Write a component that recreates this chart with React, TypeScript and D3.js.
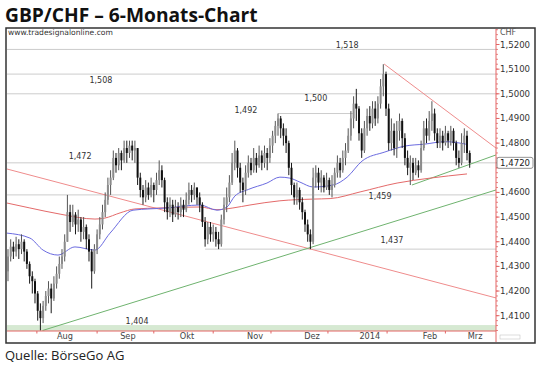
import React from 'react';
import * as d3 from 'd3';

// ---- Data ----
const firstOpen = 1.428;
const closes = [
  1.434, 1.438, 1.436, 1.439, 1.437, 1.440, 1.436, 1.431, 1.426, 1.424,
  1.419, 1.412, 1.409, 1.414, 1.418, 1.421, 1.417, 1.423, 1.427, 1.431,
  1.434, 1.440, 1.452, 1.448, 1.451, 1.447, 1.449, 1.444, 1.446, 1.441,
  1.436, 1.428, 1.437, 1.443, 1.447, 1.452, 1.457, 1.463, 1.466, 1.474,
  1.471, 1.476, 1.473, 1.478, 1.476, 1.479, 1.477, 1.478, 1.466, 1.461,
  1.458, 1.462, 1.459, 1.463, 1.461, 1.465, 1.469, 1.465, 1.456, 1.452,
  1.455, 1.451, 1.454, 1.452, 1.455, 1.453, 1.457, 1.461, 1.459, 1.462,
  1.458, 1.455, 1.448, 1.441, 1.446, 1.443, 1.444, 1.441, 1.439, 1.449,
  1.455, 1.458, 1.464, 1.472, 1.477, 1.470, 1.464, 1.461, 1.468, 1.472,
  1.469, 1.474, 1.471, 1.475, 1.472, 1.476, 1.474, 1.479, 1.483, 1.487,
  1.490, 1.486, 1.483, 1.480, 1.470, 1.463, 1.458, 1.461, 1.456, 1.452,
  1.447, 1.443, 1.440, 1.466, 1.468, 1.464, 1.466, 1.462, 1.465, 1.461,
  1.463, 1.468, 1.472, 1.469, 1.474, 1.477, 1.483, 1.490, 1.496, 1.494,
  1.484, 1.477, 1.486, 1.491, 1.488, 1.494, 1.490, 1.496, 1.503, 1.508,
  1.494, 1.480, 1.485, 1.478, 1.485, 1.489, 1.482, 1.474, 1.470, 1.472,
  1.468, 1.471, 1.469, 1.478, 1.486, 1.483, 1.489, 1.492, 1.484, 1.480,
  1.483, 1.480, 1.484, 1.481, 1.485, 1.480, 1.474, 1.472, 1.480, 1.483,
  1.476, 1.472,
];
const highs = [
  1.437, 1.441, 1.440, 1.442, 1.441, 1.443, 1.441, 1.437, 1.432, 1.428,
  1.425, 1.420, 1.415, 1.416, 1.420, 1.424, 1.423, 1.426, 1.430, 1.434,
  1.437, 1.443, 1.459, 1.455, 1.455, 1.452, 1.453, 1.450, 1.450, 1.447,
  1.443, 1.437, 1.439, 1.445, 1.450, 1.455, 1.460, 1.466, 1.469, 1.477,
  1.476, 1.478, 1.477, 1.481, 1.481, 1.481, 1.481, 1.481, 1.478, 1.468,
  1.463, 1.465, 1.464, 1.466, 1.464, 1.468, 1.473, 1.471, 1.466, 1.458,
  1.458, 1.457, 1.457, 1.456, 1.458, 1.457, 1.460, 1.464, 1.463, 1.464,
  1.462, 1.460, 1.456, 1.450, 1.448, 1.448, 1.447, 1.446, 1.444, 1.451,
  1.458, 1.462, 1.467, 1.476, 1.481, 1.478, 1.472, 1.466, 1.471, 1.475,
  1.474, 1.478, 1.476, 1.479, 1.477, 1.479, 1.478, 1.482, 1.485, 1.489,
  1.492, 1.491, 1.488, 1.486, 1.481, 1.472, 1.464, 1.464, 1.462, 1.458,
  1.453, 1.449, 1.445, 1.470, 1.471, 1.470, 1.469, 1.467, 1.468, 1.466,
  1.467, 1.470, 1.475, 1.474, 1.477, 1.480, 1.486, 1.493, 1.499, 1.502,
  1.495, 1.486, 1.489, 1.494, 1.495, 1.497, 1.497, 1.499, 1.506, 1.512,
  1.509, 1.496, 1.490, 1.488, 1.489, 1.492, 1.490, 1.484, 1.477, 1.475,
  1.474, 1.474, 1.473, 1.481, 1.489, 1.490, 1.493, 1.497, 1.494, 1.486,
  1.486, 1.485, 1.487, 1.485, 1.487, 1.486, 1.481, 1.477, 1.484, 1.486,
  1.485, 1.477,
];
const lows = [
  1.424, 1.432, 1.433, 1.434, 1.433, 1.435, 1.432, 1.429, 1.423, 1.419,
  1.415, 1.408, 1.404, 1.407, 1.412, 1.415, 1.411, 1.416, 1.421, 1.425,
  1.429, 1.432, 1.440, 1.444, 1.446, 1.443, 1.444, 1.440, 1.441, 1.437,
  1.432, 1.421, 1.427, 1.435, 1.441, 1.445, 1.450, 1.455, 1.459, 1.465,
  1.468, 1.469, 1.469, 1.472, 1.472, 1.474, 1.473, 1.472, 1.463, 1.458,
  1.455, 1.456, 1.457, 1.458, 1.456, 1.459, 1.463, 1.462, 1.452, 1.449,
  1.450, 1.448, 1.450, 1.449, 1.450, 1.450, 1.452, 1.455, 1.456, 1.457,
  1.455, 1.452, 1.446, 1.438, 1.439, 1.440, 1.440, 1.438, 1.437, 1.438,
  1.447, 1.452, 1.456, 1.463, 1.469, 1.466, 1.460, 1.456, 1.459, 1.466,
  1.467, 1.468, 1.468, 1.470, 1.469, 1.470, 1.469, 1.472, 1.476, 1.480,
  1.483, 1.482, 1.479, 1.476, 1.467, 1.459, 1.455, 1.455, 1.453, 1.449,
  1.444, 1.440, 1.437, 1.439, 1.462, 1.461, 1.460, 1.460, 1.461, 1.459,
  1.458, 1.462, 1.466, 1.466, 1.468, 1.471, 1.476, 1.481, 1.486, 1.489,
  1.481, 1.474, 1.476, 1.483, 1.485, 1.486, 1.487, 1.488, 1.494, 1.499,
  1.491, 1.477, 1.477, 1.475, 1.474, 1.481, 1.478, 1.471, 1.467, 1.463,
  1.465, 1.467, 1.466, 1.468, 1.477, 1.480, 1.481, 1.485, 1.481, 1.478,
  1.478, 1.477, 1.479, 1.478, 1.479, 1.477, 1.471, 1.470, 1.471, 1.476,
  1.473, 1.470,
];

// moving averages: [bar index, value]
const maBlue: [number, number][] = [
  [-0.4, 1.4435], [8.1, 1.4415], [13, 1.4366], [18.5, 1.4346], [24.8, 1.4379],
  [32.2, 1.4366], [37.8, 1.4435], [46.3, 1.4528], [58.9, 1.4537], [71.1, 1.4549],
  [77.4, 1.4528], [81.1, 1.4541], [84, 1.4585], [89, 1.4612], [95.9, 1.4638],
  [100.7, 1.4662], [104.4, 1.4658], [108.1, 1.4642], [113, 1.4622], [120.4, 1.4630],
  [125.6, 1.4662], [131.1, 1.4727], [139.6, 1.4764], [147, 1.4788], [154.4, 1.4796],
  [161.9, 1.4806], [170, 1.4795],
];
const maRed: [number, number][] = [
  [-0.4, 1.4557], [8.1, 1.4537], [19.3, 1.4512], [32.2, 1.4492], [35.9, 1.4496],
  [41.5, 1.4517], [47, 1.4533], [56.3, 1.4537], [71.1, 1.4541], [77.4, 1.4530],
  [83.3, 1.4537], [89.6, 1.4549], [100.7, 1.4566], [113, 1.4573], [119.3, 1.4575],
  [130.4, 1.4602], [144.1, 1.4638], [156.3, 1.4658], [170, 1.4675],
];

// trend lines: [bar index, value]
const trendRedLong: [number, number][] = [[-0.37, 1.4695], [180.74, 1.4172]];
const trendRedShort: [number, number][] = [[139.3, 1.5121], [180.74, 1.478]];
const trendGreenLong: [number, number][] = [[12.8, 1.404], [180.74, 1.461]];
const trendGreenShort: [number, number][] = [[149.6, 1.463], [180.74, 1.4752]];

// horizontal levels
const levelValues = [1.518, 1.508, 1.5, 1.492, 1.472, 1.459, 1.437];
const levelFrom = [-0.37, -0.37, -0.37, 100, -0.37, -0.37, 73];
const levelTo = [180.74, 180.74, 180.74, 128, 180.74, 180.74, 180.74];
const levelLabels = ['1,518', '1,508', '1,500', '1,492', '1,472', '1,459', '1,437', '1,404'];
const levelLabelIdx = [125.6, 34.4, 114, 88.1, 26.7, 137.8, 142.2, 47.8];
const levelLabelVal = [1.5198, 1.5056, 1.4983, 1.4934, 1.4748, 1.4583, 1.4407, 1.4078];
const bandLow = 1.4035;
const bandHigh = 1.4062;

const yTicks = [1.41, 1.42, 1.43, 1.44, 1.45, 1.46, 1.47, 1.48, 1.49, 1.5, 1.51, 1.52];
const lastPrice = 1.472;

const monthTickIdx = [10.7, 33, 54, 76, 97.4, 118.5, 140.4, 162];
const monthLabels = ['Aug', 'Sep', 'Okt', 'Nov', 'Dez', '2014', 'Feb', 'Mrz'];
const monthLabelIdx = [21.1, 44.4, 66.3, 91.5, 112.6, 134, 156.3, 173];

const fmt = (v: number) => d3.format('.4f')(v).replace('.', ',');

export default function App() {
  const x = d3.scaleLinear().domain([-0.37, 180.74]).range([7, 496]);
  const y = d3.scaleLinear().domain([1.41, 1.52]).range([315.7, 44.5]);
  const plotTop = 29;
  const plotBottom = 331;
  const plotLeft = 7;
  const plotRight = 496;

  const line = d3.line<[number, number]>().x(d => x(d[0])).y(d => y(d[1]));
  const curve = d3
    .line<[number, number]>()
    .x(d => x(d[0]))
    .y(d => y(d[1]))
    .curve(d3.curveMonotoneX);

  const minorTicks = d3.range(1404, 1527, 2).map(v => v / 1000);

  const chartFont = "'DejaVu Sans', Verdana, sans-serif";

  return (
    <svg
      width={540}
      height={366}
      style={{ position: 'absolute', left: 0, top: 0, background: '#fff' }}
    >
      <defs>
        <clipPath id="plot">
          <rect x={plotLeft} y={plotTop} width={plotRight - plotLeft} height={plotBottom - plotTop} />
        </clipPath>
      </defs>
      <rect x={0} y={0} width={540} height={366} fill="#fff" />
      <text
        x={5}
        y={21.5}
        fontFamily="'Open Sans', sans-serif"
        fontWeight={700}
        fontSize={19.2}
        fill="#111"
      >
        GBP/CHF – 6-Monats-Chart
      </text>

      {/* frame */}
      <rect x={6} y={28} width={529} height={315} fill="#fff" stroke="#333" strokeWidth={1.5} />

      <g clipPath="url(#plot)">
        {/* green band */}
        <rect
          x={plotLeft}
          y={y(bandHigh)}
          width={plotRight - plotLeft}
          height={y(bandLow) - y(bandHigh)}
          fill="#d6e9d2"
        />
        {/* levels */}
        {levelValues.map((v, k) => (
          <line
            key={'lv' + k}
            x1={x(levelFrom[k])}
            x2={x(levelTo[k])}
            y1={y(v)}
            y2={y(v)}
            stroke="#cccccc"
            strokeWidth={1}
          />
        ))}
        {/* trend lines */}
        <path d={line(trendRedLong) || ''} fill="none" stroke="#ef8c8c" strokeWidth={1} />
        <path d={line(trendRedShort) || ''} fill="none" stroke="#ef8c8c" strokeWidth={1} />
        <path d={line(trendGreenLong) || ''} fill="none" stroke="#6fb36f" strokeWidth={1} />
        <path d={line(trendGreenShort) || ''} fill="none" stroke="#6fb36f" strokeWidth={1} />
        {/* moving averages */}
        <path d={curve(maRed) || ''} fill="none" stroke="#e46a6a" strokeWidth={1} />
        <path d={curve(maBlue) || ''} fill="none" stroke="#6b6be0" strokeWidth={1} />

        {/* candles */}
        {closes.map((c, i) => {
          const o = i === 0 ? firstOpen : closes[i - 1];
          const h = Math.max(highs[i], o, c);
          const l = Math.min(lows[i], o, c);
          const up = c >= o;
          const cx = x(i);
          const top = y(Math.max(o, c));
          const bot = y(Math.min(o, c));
          return (
            <g key={'c' + i}>
              <line
                x1={cx}
                x2={cx}
                y1={y(h)}
                y2={y(l)}
                stroke={up ? '#555' : '#1a1a1a'}
                strokeWidth={1}
              />
              <rect
                x={cx - 1}
                y={top}
                width={2}
                height={Math.max(1, bot - top)}
                fill={up ? '#8c8c8c' : '#111'}
              />
            </g>
          );
        })}
      </g>

      {/* level labels */}
      {levelLabels.map((t, k) => (
        <text
          key={'ll' + k}
          x={x(levelLabelIdx[k])}
          y={y(levelLabelVal[k])}
          dy="0.35em"
          textAnchor="middle"
          fontFamily={chartFont}
          fontSize={8}
          fill="#333"
        >
          {t}
        </text>
      ))}

      <text x={8} y={35} fontFamily={chartFont} fontSize={7.6} fill="#333">
        www.tradesignalonline.com
      </text>

      {/* axes */}
      <line x1={plotRight} x2={plotRight} y1={plotTop} y2={342} stroke="#e36464" strokeWidth={1} />
      <line x1={plotLeft} x2={plotRight} y1={plotBottom} y2={plotBottom} stroke="#e36464" strokeWidth={1} />
      {minorTicks.map((v, k) => (
        <line
          key={'mt' + k}
          x1={plotRight}
          x2={plotRight + 2}
          y1={y(v)}
          y2={y(v)}
          stroke="#e36464"
          strokeWidth={0.8}
        />
      ))}
      {yTicks.map(v => (
        <g key={'yt' + v}>
          <line x1={plotRight} x2={plotRight + 3.5} y1={y(v)} y2={y(v)} stroke="#e36464" strokeWidth={1} />
          {Math.abs(v - lastPrice) > 0.004 && (
            <text
              x={500}
              y={y(v)}
              dy="0.35em"
              fontFamily={chartFont}
              fontSize={8.6}
              fill="#333"
            >
              {fmt(v)}
            </text>
          )}
        </g>
      ))}
      <text x={500} y={35} fontFamily={chartFont} fontSize={8} fill="#555">
        CHF
      </text>
      {/* last price box */}
      <rect
        x={497}
        y={y(lastPrice) - 5.5}
        width={36}
        height={11}
        rx={2}
        fill="#fff"
        stroke="#777"
        strokeWidth={0.8}
      />
      <text
        x={500}
        y={y(lastPrice)}
        dy="0.35em"
        fontFamily={chartFont}
        fontSize={8.6}
        fill="#222"
      >
        {fmt(lastPrice)}
      </text>

      {monthTickIdx.map((m, k) => (
        <line
          key={'xt' + k}
          x1={x(m)}
          x2={x(m)}
          y1={plotBottom}
          y2={plotBottom + 2.5}
          stroke="#e36464"
          strokeWidth={1}
        />
      ))}
      {monthLabels.map((t, k) => (
        <text
          key={'ml' + k}
          x={x(monthLabelIdx[k])}
          y={339}
          textAnchor="middle"
          fontFamily={chartFont}
          fontSize={8.2}
          fill="#444"
        >
          {t}
        </text>
      ))}
      <rect x={500} y={335} width={20} height={4} fill="none" stroke="#bbb" strokeWidth={0.5} />

      <text x={5} y={360} fontFamily="'Open Sans', sans-serif" fontSize={13} fill="#222">
        Quelle: BörseGo AG
      </text>
    </svg>
  );
}
